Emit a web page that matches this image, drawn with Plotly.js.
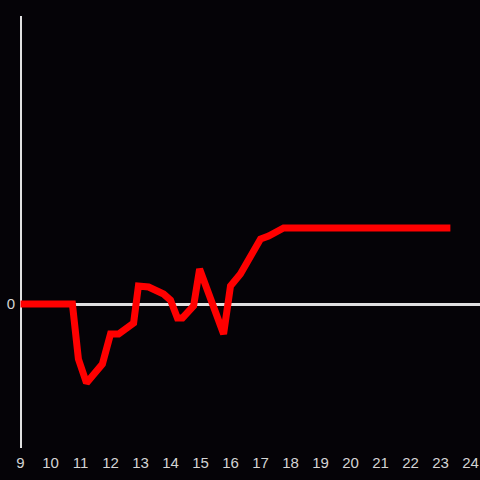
<!DOCTYPE html>
<html>
<head>
<meta charset="utf-8">
<script src="https://cdn.plot.ly/plotly-3.0.1.min.js"></script>
<style>html,body{margin:0;padding:0;background:#050307;}</style>
</head>
<body>
<div id="chart" style="width:480px;height:480px;"></div>
<script>
const hours = [9, 10.73, 10.93, 11.2, 11.73, 12.0, 12.27, 12.77, 12.93, 13.27, 13.77, 14.0, 14.23, 14.4, 14.77, 14.97, 15.77, 16.0, 16.33, 17.0, 17.27, 17.77, 23.33];
const values = [0, 0, -55, -79, -60, -30, -30, -19, 18, 17, 10, 4, -14, -14, -2, 35, -30, 18, 30, 65, 68, 76, 76];
const xTicks = [9,10,11,12,13,14,15,16,17,18,19,20,21,22,23,24];

Plotly.newPlot('chart', [{
  x: hours, y: values, type: 'scatter', mode: 'lines',
  line: {color: '#ff0000', width: 7},
  hoverinfo: 'skip'
}], {
  width: 480, height: 480,
  paper_bgcolor: '#050307', plot_bgcolor: '#050307',
  margin: {l: 20, r: 0, t: 16, b: 32},
  showlegend: false,
  font: {family: 'Liberation Sans, Arial, sans-serif', size: 15, color: '#d4d4d4'},
  xaxis: {range: [8.983, 24.317], tickvals: xTicks, ticktext: xTicks.map(String), showgrid: false, zeroline: false, showline: false, ticks: '', ticklabelstandoff: 4},
  yaxis: {range: [-144, 288], tickvals: [0], ticktext: ['0'], showgrid: false, zeroline: true, zerolinecolor: '#e0e0e0', zerolinewidth: 3,
          showline: false, ticks: '', ticklabelstandoff: 4},
  shapes: [{type: 'line', layer: 'below', xref: 'x', x0: 9, x1: 9, yref: 'paper', y0: 0, y1: 1, line: {color: '#e0e0e0', width: 3}}]
}, {staticPlot: true});
</script>
</body>
</html>
